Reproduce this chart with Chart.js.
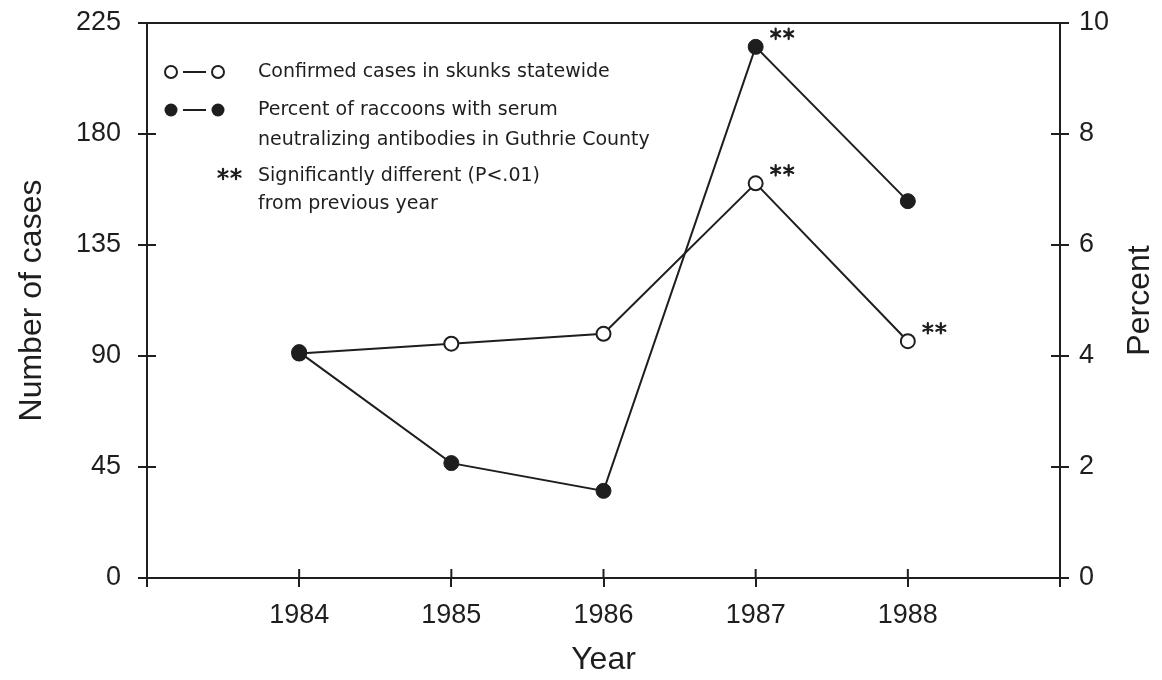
<!DOCTYPE html>
<html>
<head>
<meta charset="utf-8">
<script src="https://cdn.jsdelivr.net/npm/chart.js@4.4.0/dist/chart.umd.min.js"></script>
<style>
  html, body { margin: 0; padding: 0; background: #ffffff; }
  #wrap { width: 1162px; height: 680px; }
</style>
</head>
<body>
<div id="wrap"><canvas id="chart" width="1162" height="680"></canvas></div>
<script>
// Rabies surveillance, 1984-1988
const years = [1984, 1985, 1986, 1987, 1988];
const skunkCases = [91, 95, 99, 160, 96];              // confirmed cases in skunks statewide
const raccoonPercent = [4.07, 2.07, 1.57, 9.57, 6.79];  // % raccoons with SN antibodies, Guthrie County
const skunkSignificant = [false, false, false, true, true];
const raccoonSignificant = [false, false, false, true, false];
const caseTicks = [0, 45, 90, 135, 180, 225];
const percentTicks = [0, 2, 4, 6, 8, 10];
const yearAxis = [1983, 1984, 1985, 1986, 1987, 1988, 1989];

const INK = '#1e1e1e';
const AXIS_FONT = '"Liberation Sans", Arial, sans-serif';
const KEY_FONT = '"DejaVu Sans", "Liberation Sans", Arial, sans-serif';

const toPoints = (ys) => years.map((yr, i) => ({ x: yr, y: ys[i] }));

// six-spoke asterisk pair
function drawStars(ctx, x, y) {
  ctx.save();
  ctx.strokeStyle = INK;
  ctx.lineWidth = 2.2;
  ctx.lineCap = 'round';
  [0, 13].forEach((dx) => {
    const cx = x + dx;
    ctx.beginPath();
    for (let k = 0; k < 3; k++) {
      const ang = Math.PI / 2 + k * Math.PI / 3;
      const r = 5.2;
      ctx.moveTo(cx - r * Math.cos(ang), y - r * Math.sin(ang));
      ctx.lineTo(cx + r * Math.cos(ang), y + r * Math.sin(ang));
    }
    ctx.stroke();
  });
  ctx.restore();
}

// keep the plot box fixed: no extra room reserved for half-height tick labels
const noScalePadding = (s) => {
  s.paddingTop = 0; s.paddingBottom = 0; s.paddingLeft = 0; s.paddingRight = 0;
};

// small tick marks on the inner side of each axis, plus the top frame line
const innerTicks = {
  id: 'innerTicks',
  beforeDatasetsDraw(chart) {
    const { ctx, chartArea: a, scales } = chart;
    ctx.save();
    ctx.strokeStyle = INK;
    ctx.lineWidth = 2;
    ctx.beginPath();
    ctx.moveTo(a.left, a.top);
    ctx.lineTo(a.right, a.top);
    const L = 9;
    scales.yCases.ticks.forEach((t) => {
      const y = scales.yCases.getPixelForValue(t.value);
      ctx.moveTo(a.left, y); ctx.lineTo(a.left + L, y);
    });
    scales.yPercent.ticks.forEach((t) => {
      const y = scales.yPercent.getPixelForValue(t.value);
      ctx.moveTo(a.right, y); ctx.lineTo(a.right - L, y);
    });
    scales.x.ticks.forEach((t) => {
      if (!years.includes(t.value)) return;
      const x = scales.x.getPixelForValue(t.value);
      ctx.moveTo(x, a.bottom); ctx.lineTo(x, a.bottom - L);
    });
    ctx.stroke();
    ctx.restore();
  }
};

// vertical axis titles, both reading bottom-to-top
const sideTitles = {
  id: 'sideTitles',
  afterDraw(chart) {
    const { ctx, chartArea: a } = chart;
    const cy = (a.top + a.bottom) / 2;
    ctx.save();
    ctx.fillStyle = INK;
    ctx.font = '32px ' + AXIS_FONT;
    ctx.textAlign = 'center';
    ctx.textBaseline = 'middle';
    [[32, 'Number of cases'], [1140, 'Percent']].forEach(([x, txt]) => {
      ctx.save();
      ctx.translate(x, cy);
      ctx.rotate(-Math.PI / 2);
      ctx.fillText(txt, 0, 0);
      ctx.restore();
    });
    ctx.restore();
  }
};

// "**" beside points that differ significantly from the previous year
const starMarks = {
  id: 'starMarks',
  afterDatasetsDraw(chart) {
    const { ctx } = chart;
    [[0, raccoonSignificant], [1, skunkSignificant]].forEach(([di, flags]) => {
      const meta = chart.getDatasetMeta(di);
      flags.forEach((f, i) => {
        if (!f) return;
        const p = meta.data[i];
        drawStars(ctx, p.x + 20, p.y - 13);
      });
    });
  }
};

// key in the upper-left corner of the plot
const keyBox = {
  id: 'keyBox',
  afterDatasetsDraw(chart) {
    const { ctx, chartArea: a } = chart;
    const x0 = a.left, y0 = a.top;
    ctx.save();
    ctx.strokeStyle = INK;
    ctx.fillStyle = INK;
    ctx.lineWidth = 2;
    const sym = (cy, filled) => {
      [x0 + 24, x0 + 71].forEach((cx) => {
        ctx.beginPath();
        ctx.arc(cx, cy, filled ? 6.5 : 6, 0, Math.PI * 2);
        if (filled) ctx.fill(); else ctx.stroke();
      });
      ctx.beginPath();
      ctx.moveTo(x0 + 36, cy); ctx.lineTo(x0 + 59, cy);
      ctx.stroke();
    };
    sym(y0 + 49, false);
    sym(y0 + 87, true);
    ctx.font = '19px ' + KEY_FONT;
    ctx.textAlign = 'left';
    ctx.textBaseline = 'middle';
    const tx = x0 + 111;
    ctx.fillText('Confirmed cases in skunks statewide', tx, y0 + 49);
    ctx.fillText('Percent of raccoons with serum', tx, y0 + 87);
    ctx.fillText('neutralizing antibodies in Guthrie County', tx, y0 + 117);
    ctx.fillText('Significantly different (P<.01)', tx, y0 + 153);
    ctx.fillText('from previous year', tx, y0 + 181);
    ctx.restore();
    drawStars(ctx, x0 + 76, y0 + 151);
  }
};

const axisLine = { display: true, color: INK, width: 2 };
const tickFont = { family: AXIS_FONT, size: 27 };
const outerGrid = { drawOnChartArea: false, drawTicks: true, tickLength: 9, color: INK, lineWidth: 2 };

new Chart(document.getElementById('chart'), {
  type: 'line',
  data: {
    datasets: [
      {
        label: 'Percent of raccoons with serum neutralizing antibodies in Guthrie County',
        data: toPoints(raccoonPercent),
        yAxisID: 'yPercent',
        order: 0,
        borderColor: INK,
        borderWidth: 2,
        pointRadius: 7.5,
        pointBorderWidth: 1,
        pointBackgroundColor: INK,
        pointBorderColor: INK,
        tension: 0
      },
      {
        label: 'Confirmed cases in skunks statewide',
        data: toPoints(skunkCases),
        yAxisID: 'yCases',
        order: 1,
        borderColor: INK,
        borderWidth: 2,
        pointRadius: 7,
        pointBorderWidth: 2,
        pointBackgroundColor: '#ffffff',
        pointBorderColor: INK,
        tension: 0
      }
    ]
  },
  options: {
    responsive: false,
    animation: false,
    devicePixelRatio: 1,
    layout: { padding: { top: 23, left: 0, right: 0, bottom: 0 } },
    plugins: {
      legend: { display: false },
      tooltip: { enabled: false }
    },
    scales: {
      x: {
        type: 'linear',
        min: yearAxis[0],
        max: yearAxis[yearAxis.length - 1],
        afterBuildTicks: (s) => { s.ticks = yearAxis.map((v) => ({ value: v })); },
        afterFit: (s) => { s.height = 102; noScalePadding(s); },
        grid: outerGrid,
        border: axisLine,
        ticks: {
          color: INK,
          font: tickFont,
          padding: 12,
          maxRotation: 0,
          autoSkip: false,
          callback: (v) => (years.includes(v) ? String(v) : '')
        },
        title: {
          display: true,
          text: 'Year',
          color: INK,
          font: { family: AXIS_FONT, size: 32 },
          padding: { top: 0, bottom: 1 }
        }
      },
      yCases: {
        type: 'linear',
        position: 'left',
        min: caseTicks[0],
        max: caseTicks[caseTicks.length - 1],
        afterBuildTicks: (s) => { s.ticks = caseTicks.map((v) => ({ value: v })); },
        afterFit: (s) => { s.width = 147; noScalePadding(s); },
        grid: outerGrid,
        border: axisLine,
        ticks: { color: INK, font: tickFont, padding: 17 }
      },
      yPercent: {
        type: 'linear',
        position: 'right',
        min: percentTicks[0],
        max: percentTicks[percentTicks.length - 1],
        afterBuildTicks: (s) => { s.ticks = percentTicks.map((v) => ({ value: v })); },
        afterFit: (s) => { s.width = 102; noScalePadding(s); },
        grid: outerGrid,
        border: axisLine,
        ticks: { color: INK, font: tickFont, padding: 10 }
      }
    }
  },
  plugins: [innerTicks, starMarks, keyBox, sideTitles]
});
</script>
</body>
</html>
